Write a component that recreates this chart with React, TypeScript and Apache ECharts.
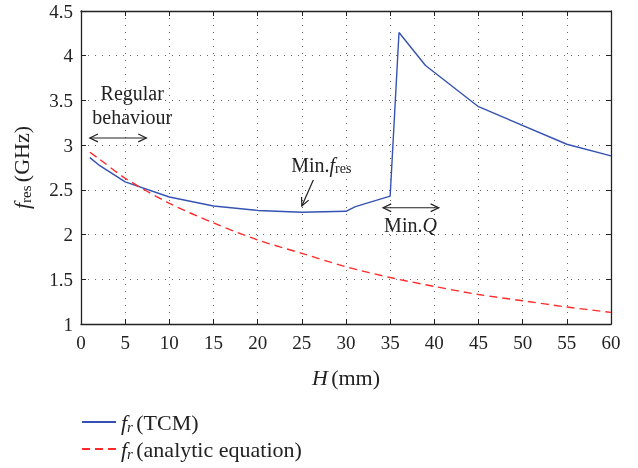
import React, { useEffect, useRef } from "react";
import * as echarts from "echarts";

const hTCM = [1, 2, 5, 10, 15, 20, 25, 30, 31, 32, 35, 36, 39, 45, 55, 60];
const fTCM = [2.86, 2.78, 2.59, 2.42, 2.32, 2.27, 2.25, 2.26, 2.31, 2.34, 2.43, 4.26, 3.89, 3.43, 3.01, 2.88];

const hAna = [1, 2, 5, 10, 15, 20, 25, 30, 35, 40, 45, 50, 55, 60];
const fAna = [2.92, 2.85, 2.63, 2.35, 2.13, 1.94, 1.79, 1.64, 1.52, 1.42, 1.33, 1.26, 1.19, 1.13];

const xTicks = { min: 0, max: 60, interval: 5 };
const yTicks = { min: 1, max: 4.5, interval: 0.5 };

const FONT = "'Liberation Serif', 'DejaVu Serif', serif";
const INK = "#222";

const richSub = {
  i: { fontFamily: FONT, fontStyle: "italic", fontSize: 20, color: INK },
  s: { fontFamily: FONT, fontSize: 14, color: INK, padding: [8, 0, 0, 0] },
  si: { fontFamily: FONT, fontSize: 14, fontStyle: "italic", color: INK, padding: [8, 0, 0, 0] },
  n: { fontFamily: FONT, fontSize: 20, color: INK },
};
const richBig = {
  i: { ...richSub.i, fontSize: 22 },
  s: { ...richSub.s, fontSize: 15, padding: [9, 0, 0, 0] },
  si: { ...richSub.si, fontSize: 15, padding: [9, 0, 0, 0] },
  n: { ...richSub.n, fontSize: 22 },
};

export default function App() {
  const ref = useRef<HTMLDivElement>(null);
  useEffect(() => {
    if (!ref.current) return;
    const chart = echarts.init(ref.current, null, { renderer: "svg" });
    const grid = { left: 81, top: 11, right: 27, bottom: 144 };
    const axisCommon = {
      type: "value",
      axisLine: { show: true, onZero: false, lineStyle: { color: INK, width: 1.3 } },
      axisTick: { show: true, inside: true, length: 5, lineStyle: { color: INK } },
    };
    chart.setOption({
      animation: false,
      grid,
      xAxis: [
        {
          ...axisCommon,
          ...xTicks,
          position: "bottom",
          name: "{i|H} {n|(mm)}",
          nameLocation: "middle",
          nameGap: 42,
          nameTextStyle: { rich: richBig },
          axisLabel: { fontFamily: FONT, fontSize: 19, color: INK, margin: 9 },
          splitLine: { show: true, lineStyle: { color: "#666", type: [1, 6], width: 1 } },
        },
        {
          ...axisCommon,
          ...xTicks,
          position: "top",
          axisLabel: { show: false },
          splitLine: { show: false },
        },
      ],
      yAxis: [
        {
          ...axisCommon,
          ...yTicks,
          position: "left",
          name: "{i|f}{s|res} {n|(GHz)}",
          nameLocation: "middle",
          nameGap: 48,
          nameTextStyle: { rich: richBig },
          axisLabel: { fontFamily: FONT, fontSize: 19, color: INK, margin: 8 },
          splitLine: { show: true, lineStyle: { color: "#666", type: [1, 6], width: 1 } },
        },
        {
          ...axisCommon,
          ...yTicks,
          position: "right",
          axisLabel: { show: false },
          splitLine: { show: false },
        },
      ],
      legend: {
        orient: "vertical",
        left: 81,
        top: 411,
        padding: 0,
        itemWidth: 34,
        itemHeight: 18,
        itemGap: 4,
        itemStyle: { opacity: 0 },
        data: ["TCM", "analytic equation"],
        formatter: (name: string) => `{i|f}{si|r} {n|(${name})}`,
        textStyle: { rich: richBig },
      },
      series: [
        {
          name: "TCM",
          type: "line",
          data: hTCM.map((h, i) => [h, fTCM[i]]),
          showSymbol: false,
          symbol: "none",
          lineStyle: { color: "#3552b3", width: 1.4 },
          itemStyle: { color: "#3552b3" },
        },
        {
          name: "analytic equation",
          type: "line",
          data: hAna.map((h, i) => [h, fAna[i]]),
          showSymbol: false,
          symbol: "none",
          smooth: 0.3,
          lineStyle: { color: "#ff2a2a", width: 1.4, type: [8, 5] },
          itemStyle: { color: "#ff2a2a" },
        },
      ],
    });

    const px = (x: number, y: number) =>
      chart.convertToPixel({ gridIndex: 0 }, [x, y]) as number[];

    const head = (tip: number[], from: number[]) => {
      const ang = Math.atan2(from[1] - tip[1], from[0] - tip[0]);
      const L = 9;
      const a = Math.PI / 7;
      return {
        type: "polyline",
        shape: {
          points: [
            [tip[0] + L * Math.cos(ang + a), tip[1] + L * Math.sin(ang + a)],
            tip,
            [tip[0] + L * Math.cos(ang - a), tip[1] + L * Math.sin(ang - a)],
          ],
        },
        style: { stroke: INK, fill: "none", lineWidth: 1.2 },
      };
    };
    const arrow = (p1: number[], p2: number[], both: boolean) => {
      const els: any[] = [
        {
          type: "line",
          shape: { x1: p1[0], y1: p1[1], x2: p2[0], y2: p2[1] },
          style: { stroke: INK, lineWidth: 1.2 },
        },
        head(p2, p1),
      ];
      if (both) els.push(head(p1, p2));
      return els;
    };
    const text = (p: number[], t: string) => ({
      type: "text",
      x: p[0],
      y: p[1],
      style: {
        text: t,
        rich: richSub,
        font: `20px ${FONT}`,
        fill: INK,
        align: "center",
        verticalAlign: "middle",
      },
    });

    chart.setOption({
      graphic: [
        ...arrow(px(1, 3.08), px(7.4, 3.08), true),
        ...arrow(px(34.2, 2.3), px(40.5, 2.3), true),
        ...arrow(px(26.3, 2.61), px(25, 2.32), false),
        text(px(5.8, 3.58), "{n|Regular}"),
        text(px(5.8, 3.31), "{n|behaviour}"),
        text(px(27.2, 2.78), "{n|Min.}{i|f}{s|res}"),
        text(px(37.3, 2.11), "{n|Min.}{i|Q}"),
      ],
    });

    return () => chart.dispose();
  }, []);
  return (
    <div
      ref={ref}
      style={{ position: "fixed", left: 0, top: 0, width: 638, height: 468 }}
    />
  );
}
